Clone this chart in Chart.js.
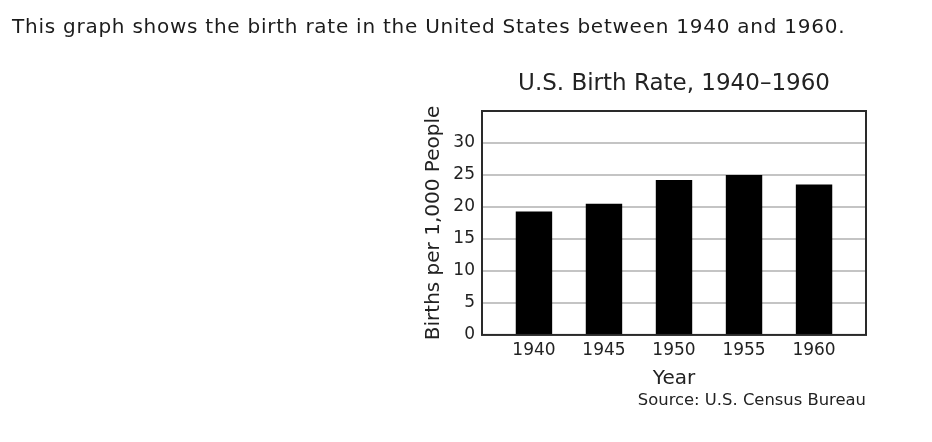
<!DOCTYPE html>
<html lang="en">
<head>
  <meta charset="UTF-8">
  <title>U.S. Birth Rate, 1940–1960</title>
  <script src="https://cdn.jsdelivr.net/npm/chart.js"></script>
  <style>
    html, body { margin: 0; padding: 0; background: #fff; }
    .wrap { position: relative; width: 932px; height: 442px; overflow: hidden; }
    .intro {
      position: absolute; left: 12px; top: 15px;
      font-family: "DejaVu Sans", sans-serif; font-size: 20px; line-height: 22px;
      letter-spacing: 0.75px; color: #1c1c1c; white-space: nowrap;
    }
    canvas { position: absolute; left: 0; top: 0; }
  </style>
</head>
<body>
  <div class="wrap">
    <canvas id="birthChart" width="932" height="442"></canvas>
    <div class="intro">This graph shows the birth rate in the United States between 1940 and 1960.</div>
  </div>

  <script>
    const years = [1940, 1945, 1950, 1955, 1960];
    const birthRates = [19.3, 20.5, 24.2, 25.0, 23.5];
    const yTicks = [0, 5, 10, 15, 20, 25, 30];

    const font = 'DejaVu Sans';
    const ink = '#222';

    // box around the plot area (top and right sides are not axes)
    const frame = {
      id: 'frame',
      afterDatasetsDraw(chart) {
        const { ctx, chartArea: a } = chart;
        ctx.save();
        ctx.strokeStyle = '#2a2a2a';
        ctx.lineWidth = 2;
        ctx.strokeRect(a.left, a.top, a.right - a.left, a.bottom - a.top);
        ctx.restore();
      }
    };

    new Chart(document.getElementById('birthChart'), {
      type: 'bar',
      data: {
        datasets: [{
          label: 'Births per 1,000 People',
          data: years.map((yr, i) => ({ x: yr, y: birthRates[i] })),
          backgroundColor: '#000',
          categoryPercentage: 1,
          barPercentage: 0.52
        }]
      },
      options: {
        responsive: false,
        animation: false,
        layout: { padding: { left: 422, right: 66, top: 70, bottom: 31 } },
        plugins: {
          legend: { display: false },
          tooltip: { enabled: false },
          title: {
            display: true,
            fullSize: false,
            text: 'U.S. Birth Rate, 1940–1960',
            color: ink,
            font: { family: font, size: 23, weight: 'normal' },
            padding: { top: 0, bottom: 13.4 }
          },
          subtitle: {
            display: true,
            fullSize: false,
            position: 'bottom',
            align: 'end',
            text: 'Source: U.S. Census Bureau',
            color: ink,
            font: { family: font, size: 16.4, weight: 'normal' },
            padding: { top: 1, bottom: 0 }
          }
        },
        scales: {
          x: {
            type: 'linear',
            offset: false,
            min: 1936.29,
            max: 1963.71,
            grid: { display: false, drawTicks: false },
            border: { display: false },
            ticks: {
              stepSize: 5,
              includeBounds: false,
              padding: 5,
              color: ink,
              font: { family: font, size: 17 },
              callback: v => years.includes(v) ? String(v) : ''
            },
            title: {
              display: true,
              text: 'Year',
              color: ink,
              font: { family: font, size: 20 },
              padding: { top: 1, bottom: 0 }
            }
          },
          y: {
            min: 0,
            max: 35,
            afterFit: s => { s.width = 60; },
            grid: { color: '#c4c4c4', lineWidth: 2, drawTicks: false },
            border: { display: false },
            ticks: {
              stepSize: 5,
              padding: 7,
              color: ink,
              font: { family: font, size: 17 },
              callback: v => yTicks.includes(v) ? String(v) : ''
            },
            title: {
              display: true,
              text: 'Births per 1,000 People',
              color: ink,
              font: { family: font, size: 20 },
              padding: { top: 0, bottom: 0 }
            }
          }
        }
      },
      plugins: [frame]
    });
  </script>
</body>
</html>
